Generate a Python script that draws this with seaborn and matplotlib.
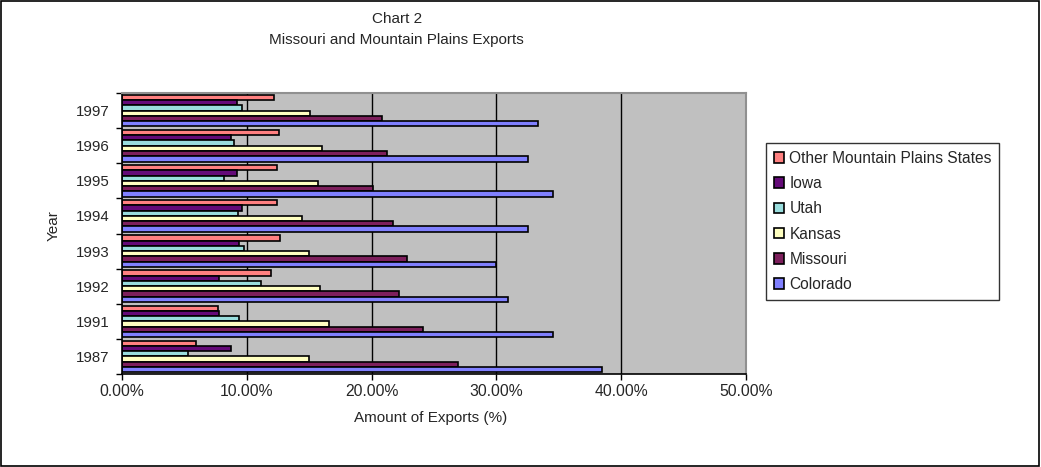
import numpy as np
import pandas as pd
import matplotlib
matplotlib.use("Agg")
import matplotlib.pyplot as plt
import seaborn as sns
from matplotlib.ticker import FuncFormatter, FixedLocator
from matplotlib.patches import Rectangle


# DATA

years = ["1997", "1996", "1995", "1994", "1993", "1992", "1991", "1987"]

states = [
    "Other Mountain Plains States",
    "Iowa",
    "Utah",
    "Kansas",
    "Missouri",
    "Colorado"
]

other_states = [12.2, 12.6, 12.4, 12.4, 12.7, 11.9, 7.7, 5.9]
iowa = [9.2, 8.7, 9.2, 9.6, 9.4, 7.8, 7.8, 8.7]
utah = [9.6, 9.0, 8.2, 9.3, 9.8, 11.1, 9.4, 5.3]
kansas = [15.1, 16.0, 15.7, 14.4, 15.0, 15.9, 16.6, 15.0]
missouri = [20.8, 21.2, 20.1, 21.7, 22.8, 22.2, 24.1, 26.9]
colorado = [33.3, 32.5, 34.5, 32.5, 30.0, 30.9, 34.5, 38.5]

x_ticks = [0, 10, 20, 30, 40, 50]

state_colors = ["#FF8080", "#640A78", "#99DDDD", "#FFFFC0", "#7D1F5C", "#8080FF"]


# STYLE

sns.set_theme(style="white")
plt.rcParams["font.family"] = ["Liberation Sans", "DejaVu Sans"]
plt.rcParams["font.size"] = 11


def build_frame():

    series = [other_states, iowa, utah, kansas, missouri, colorado]

    rows = []

    for state, values in zip(states, series):
        for year, v in zip(years, values):
            rows.append({"Year": year, "State": state, "Exports": v})

    return pd.DataFrame(rows)


def main():

    df = build_frame()

    fig = plt.figure(figsize=(10.41, 4.67), dpi=100)
    fig.patch.set_facecolor("white")

    # outer border
    fig.patches.append(
        Rectangle(
            (0.001, 0.002), 0.997, 0.995,
            transform=fig.transFigure,
            fill=False,
            edgecolor="black",
            linewidth=1.2
        )
    )

    # plot area: x 122-746 px, y 93-374 px
    ax = fig.add_axes([0.1172, 0.1991, 0.5994, 0.6017])
    ax.set_facecolor("#C0C0C0")

    sns.barplot(
        data=df,
        x="Exports",
        y="Year",
        hue="State",
        order=years,
        hue_order=states,
        palette=state_colors,
        orient="h",
        width=0.9,
        edgecolor="black",
        linewidth=1.2,
        saturation=1,
        errorbar=None,
        legend=True,
        ax=ax
    )

    ax.set_xlim(0, 50)
    ax.set_ylim(len(years) - 0.5, -0.5)

    ax.xaxis.set_major_locator(FixedLocator(x_ticks))
    ax.xaxis.set_major_formatter(
        FuncFormatter(lambda v, p: f"{v:.2f}%")
    )

    for t in x_ticks[1:-1]:
        ax.axvline(t, color="black", linewidth=1, zorder=0.5)

    ax.set_axisbelow(True)

    # tick marks at category boundaries
    ax.yaxis.set_minor_locator(
        FixedLocator(np.arange(-0.5, len(years), 1.0))
    )
    ax.tick_params(axis="y", which="major", length=0, pad=9, labelsize=10.8)
    ax.tick_params(axis="y", which="minor", length=4, width=1, color="black", left=True)
    ax.tick_params(axis="x", which="major", length=4, width=1, color="black",
                   bottom=True, labelsize=11.3, pad=3)

    for side in ["left", "bottom"]:
        ax.spines[side].set_color("black")
        ax.spines[side].set_linewidth(1.2)

    for side in ["top", "right"]:
        ax.spines[side].set_color("#909090")
        ax.spines[side].set_linewidth(1.5)

    ax.set_xlabel("Amount of Exports (%)", fontsize=11, va="center")
    ax.xaxis.set_label_coords(0.494, -0.157)

    ax.set_ylabel("Year", fontsize=11, va="center")
    ax.yaxis.set_label_coords(-0.109, 0.53)

    # legend
    handles, labels = ax.get_legend_handles_labels()
    ax.get_legend().remove()

    leg = fig.legend(
        handles,
        labels,
        loc="upper left",
        bbox_to_anchor=(0.7358, 0.6938),
        frameon=True,
        fancybox=False,
        edgecolor="black",
        fontsize=11.2,
        handlelength=0.65,
        handleheight=0.65,
        handletextpad=0.35,
        labelspacing=0.66,
        borderpad=0.5,
        borderaxespad=0
    )
    leg.get_frame().set_linewidth(1)

    fig.text(0.381, 0.959, "Chart 2", ha="center", va="center", fontsize=11)
    fig.text(0.381, 0.914, "Missouri and Mountain Plains Exports",
             ha="center", va="center", fontsize=11)

    fig.savefig("out.png", dpi=100)
    plt.close(fig)


if __name__ == "__main__":
    main()
